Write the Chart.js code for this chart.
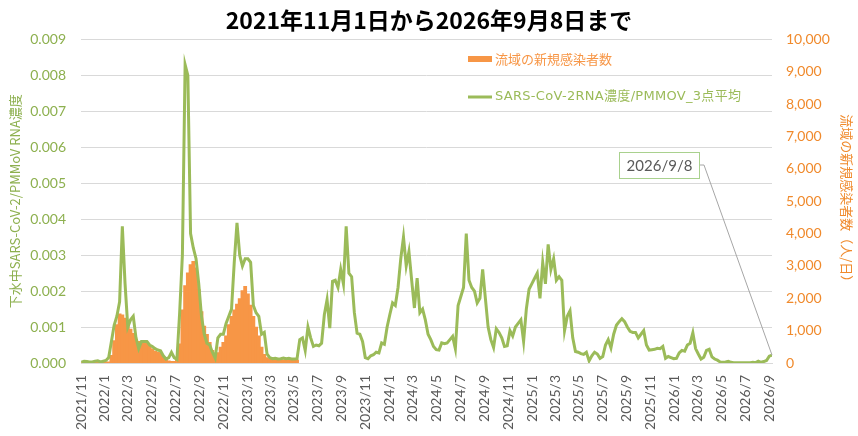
<!DOCTYPE html>
<html>
<head>
<meta charset="utf-8">
<script src="https://cdn.jsdelivr.net/npm/chart.js@4.4.1/dist/chart.umd.min.js"></script>
<style>
  html, body { margin: 0; padding: 0; background: #fff; }
  #wrap { width: 858px; height: 436px; }
</style>
</head>
<body>
<div id="wrap"><canvas id="c" width="858" height="436"></canvas></div>
<script>
// axis range and weekly samples (counted back from the last date)
const startDate = '2021-11-01'
const lastDate = '2026/9/8'
const lastDay = 1772
const sampleStep = 7

const tickLabels = ['2021/11','2022/1','2022/3','2022/5','2022/7','2022/9','2022/11',
  '2023/1','2023/3','2023/5','2023/7','2023/9','2023/11','2024/1','2024/3','2024/5',
  '2024/7','2024/9','2024/11','2025/1','2025/3','2025/5','2025/7','2025/9','2025/11',
  '2026/1','2026/3','2026/5','2026/7','2026/9']

// SARS-CoV-2 RNA / PMMoV, 3 point average (left axis)
const rnaRatio = [
  0.00002,0.00005,0.00004,0.00003,0.00003,0.00005,0.00006,0.00003,0.00005,0.00007,
  0.00015,0.0006,0.00105,0.0013,0.0017,0.0038,0.0022,0.001,0.0012,0.0013,
  0.0007,0.0004,0.0006,0.0006,0.0006,0.0005,0.00046,0.0004,0.00036,0.00034,
  0.0002,0.00011,0.00015,0.0003,0.00015,0.0001,0.0014,0.003,0.0083,0.008,
  0.0036,0.0032,0.0029,0.0022,0.0013,0.0008,0.00055,0.0005,0.0003,0.00014,
  0.0007,0.0008,0.0008,0.0011,0.0013,0.0015,0.0028,0.0039,0.003,0.0027,
  0.0029,0.0029,0.0028,0.0016,0.0014,0.0013,0.0008,0.00085,0.00025,0.00015,
  0.00012,0.00013,0.00011,0.00012,0.00014,0.00012,0.00013,0.00011,0.00011,0.00012,
  0.00065,0.0007,0.00035,0.001,0.0007,0.00046,0.0005,0.00048,0.00055,0.00134,
  0.00176,0.00097,0.00227,0.0023,0.0021,0.0026,0.0022,0.0038,0.0025,0.0024,
  0.0014,0.00083,0.0008,0.0006,0.00015,0.00012,0.0002,0.00023,0.0003,0.00028,
  0.00056,0.00052,0.001,0.00135,0.00167,0.0016,0.0021,0.0029,0.0035,0.0027,
  0.0031,0.0023,0.00153,0.00236,0.0014,0.0015,0.0012,0.0008,0.00065,0.00046,
  0.00037,0.00036,0.00056,0.00054,0.00056,0.00065,0.00074,0.0004,0.0016,0.00185,
  0.0021,0.0036,0.0023,0.0021,0.002,0.00167,0.0018,0.0026,0.0018,0.001,
  0.00065,0.00043,0.00095,0.00085,0.0007,0.00046,0.00048,0.0009,0.00075,0.001,
  0.0011,0.0012,0.0006,0.0015,0.00205,0.0022,0.00235,0.0025,0.0018,0.0028,
  0.0022,0.0033,0.0026,0.0029,0.0023,0.0024,0.0023,0.0009,0.0013,0.00145,
  0.0007,0.00032,0.0003,0.00026,0.00024,0.0003,0.00006,0.0002,0.0003,0.00025,
  0.00013,0.00018,0.0005,0.00065,0.00042,0.0008,0.00105,0.00115,0.00123,0.00115,
  0.001,0.00088,0.00085,0.00085,0.0007,0.0008,0.0009,0.0005,0.00036,0.00037,
  0.00038,0.00041,0.0004,0.00046,0.00013,0.00018,0.00015,0.00012,0.00013,0.00028,
  0.00035,0.00033,0.0005,0.00055,0.00084,0.0004,0.00025,0.00011,0.00016,0.00035,
  0.00038,0.00017,0.00011,0.00008,0.00003,0.00002,0.00003,0.00005,0.00002,0.00001,
  0.00001,0.00001,0.00001,0.00001,0.00001,0.00001,0.00002,0.00001,0.00005,0.00002,
  0.00004,0.00007,0.00019,0.00022
]

// new cases in the basin, people/day (right axis), reported until 2023/5
const newCases = [
  20,25,30,25,30,35,30,25,30,40,
  50,250,700,1200,1530,1500,1400,1280,1060,930,
  750,680,660,700,660,540,450,380,350,330,
  220,130,80,60,60,120,600,1650,2400,2800,
  3050,3150,2950,2280,1600,1150,900,650,400,230,
  330,500,650,850,1200,1450,1650,1830,2000,2250,
  2380,2150,1800,1450,1120,850,500,280,180,130,
  120,120,110,120,110,120,110,100,110,100
]

const lineLabel = 'SARS-CoV-2RNA濃度/PMMOV_3点平均'
const barLabel = '流域の新規感染者数'
const green = '#9BBB59'
const orange = '#F79646'
const jpFont = "'Noto Sans CJK JP', sans-serif"
const numFont = "Lato, 'Noto Sans CJK JP', sans-serif"

const firstDay = lastDay - sampleStep * (rnaRatio.length - 1)
const dayOf = i => firstDay + i * sampleStep
const t0 = Date.parse(startDate)
const tickDays = tickLabels.map(l => {
  const [y, m] = l.split('/').map(Number)
  return Math.round((Date.UTC(y, m - 1, 1) - t0) / 86400000)
})

const linePoints = rnaRatio.map((v, i) => ({ x: dayOf(i), y: v }))
const barPoints = newCases.map((v, i) => ({ x: dayOf(i), y: v }))

const legendBox = {
  id: 'legendBox',
  afterDraw(chart) {
    const ctx = chart.ctx
    ctx.save()
    ctx.textBaseline = 'middle'
    ctx.font = '13px ' + jpFont
    ctx.fillStyle = orange
    ctx.fillRect(468, 56, 24, 6)
    ctx.fillText(barLabel, 495, 59)
    ctx.strokeStyle = green
    ctx.lineWidth = 3
    ctx.beginPath()
    ctx.moveTo(468, 97)
    ctx.lineTo(492, 97)
    ctx.stroke()
    ctx.font = "13px 'DejaVu Sans', 'Noto Sans CJK JP', sans-serif"
    ctx.letterSpacing = '0.3px'
    ctx.fillStyle = green
    ctx.fillText(lineLabel, 495, 97)
    ctx.restore()
  }
}

const lastNote = {
  id: 'lastNote',
  afterDatasetsDraw(chart) {
    const ctx = chart.ctx
    const pt = chart.getDatasetMeta(0).data[rnaRatio.length - 1]
    ctx.save()
    ctx.strokeStyle = '#A6A6A6'
    ctx.lineWidth = 1
    ctx.beginPath()
    ctx.moveTo(699, 165)
    ctx.lineTo(704, 165)
    ctx.lineTo(pt.x, pt.y)
    ctx.stroke()
    ctx.fillStyle = '#fff'
    ctx.fillRect(619, 152, 80, 26)
    ctx.strokeStyle = '#A9D18E'
    ctx.strokeRect(619.5, 152.5, 80, 26)
    ctx.fillStyle = '#595959'
    ctx.font = '15px ' + numFont
    ctx.textAlign = 'center'
    ctx.textBaseline = 'middle'
    ctx.fillText(lastDate, 659.5, 166)
    ctx.restore()
  }
}

new Chart(document.getElementById('c'), {
  type: 'bar',
  data: {
    datasets: [
      {
        type: 'line',
        label: lineLabel,
        data: linePoints,
        yAxisID: 'y',
        borderColor: green,
        borderWidth: 3,
        pointRadius: 0,
        tension: 0,
        order: 0
      },
      {
        type: 'bar',
        label: barLabel,
        data: barPoints,
        yAxisID: 'y1',
        backgroundColor: orange,
        borderWidth: 0,
        // a bit of overlap so neighbouring weeks read as one filled shape
        barPercentage: 1.4,
        categoryPercentage: 1,
        order: 1
      }
    ]
  },
  options: {
    responsive: false,
    animation: false,
    layout: { padding: 0 },
    plugins: {
      legend: { display: false },
      tooltip: { enabled: false },
      title: {
        display: true,
        text: '2021年11月1日から2026年9月8日まで',
        color: '#000',
        font: { family: jpFont, size: 23, weight: 'bold' },
        padding: { top: 6, bottom: 5.8 }
      }
    },
    scales: {
      x: {
        type: 'linear',
        min: 0,
        max: lastDay,
        offset: false,
        grid: { display: false },
        border: { color: '#D9D9D9' },
        afterBuildTicks: s => { s.ticks = tickDays.map(v => ({ value: v })) },
        afterFit: s => { s.height = 73 },
        ticks: {
          autoSkip: false,
          minRotation: 90,
          maxRotation: 90,
          padding: 4,
          color: '#595959',
          font: { family: numFont, size: 14 },
          callback: (v, i) => tickLabels[i]
        }
      },
      y: {
        position: 'left',
        min: 0,
        max: 0.009,
        grid: { color: '#D9D9D9', drawTicks: false },
        border: { display: false },
        afterFit: s => { s.width = 81 },
        ticks: {
          stepSize: 0.001,
          padding: 15,
          color: '#8DB04F',
          font: { family: numFont, size: 14 },
          callback: v => v.toFixed(3)
        },
        title: {
          display: true,
          text: '下水中SARS-CoV-2/PMMoV RNA濃度',
          color: '#8DB04F',
          font: { family: jpFont, size: 13 },
          padding: { top: 7, bottom: 0 }
        }
      },
      y1: {
        position: 'right',
        min: 0,
        max: 10000,
        grid: { display: false, drawTicks: false },
        border: { display: false },
        afterFit: s => { s.width = 86 },
        ticks: {
          stepSize: 1000,
          padding: 14,
          color: '#F08A2C',
          font: { family: numFont, size: 14 },
          callback: v => v.toLocaleString('en-US')
        },
        title: {
          display: true,
          text: '流域の新規感染者数（人/日）',
          color: '#F08A2C',
          font: { family: jpFont, size: 13 },
          padding: { top: 3, bottom: 0 }
        }
      }
    }
  },
  plugins: [legendBox, lastNote]
})
</script>
</body>
</html>
